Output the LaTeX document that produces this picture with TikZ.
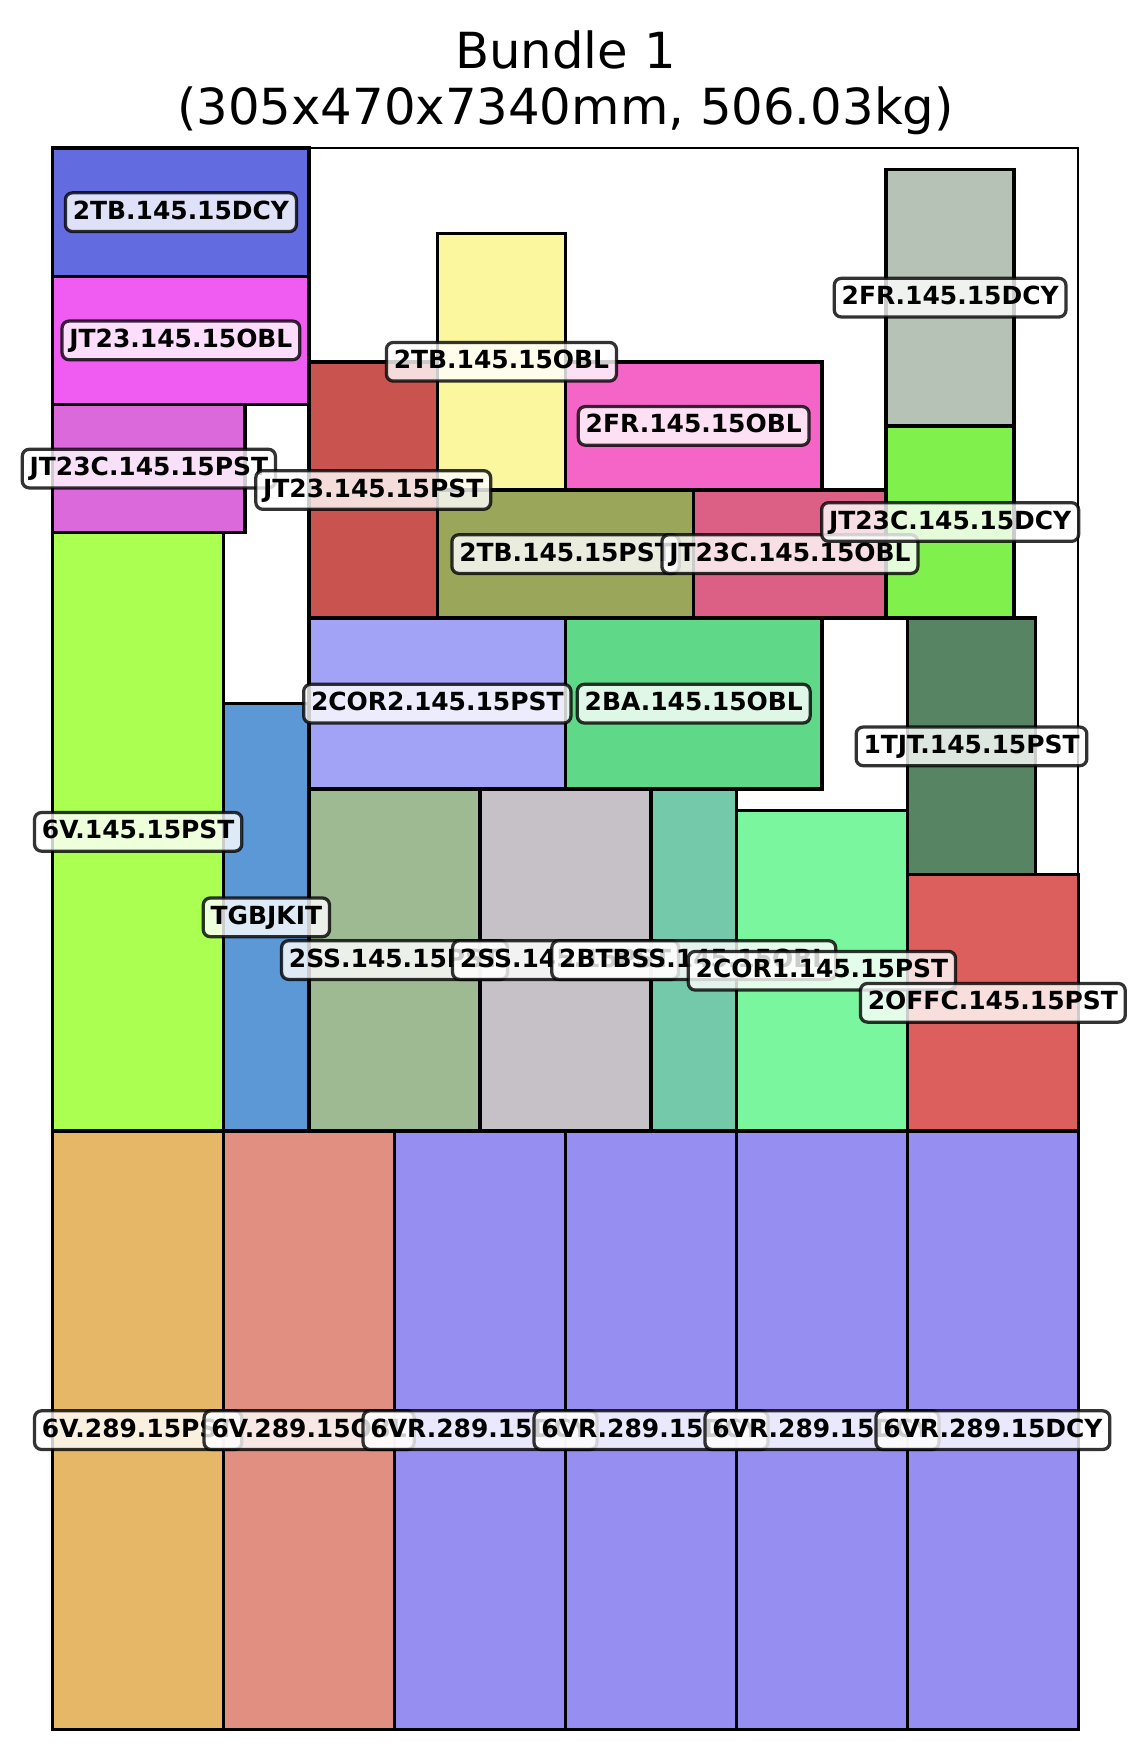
\documentclass[tikz,border=0pt]{standalone}
\usepackage{fontspec}
\setmainfont{DejaVu Sans}
\usepackage{xcolor}
\usepackage{tikz}

\definecolor{cOrange}{RGB}{229,183,103}
\definecolor{cSalmon}{RGB}{224,143,128}
\definecolor{cViolet}{RGB}{151,142,242}
\definecolor{cLime}{RGB}{170,255,80}
\definecolor{cSteel}{RGB}{92,151,214}
\definecolor{cSage}{RGB}{158,186,146}
\definecolor{cMist}{RGB}{198,193,198}
\definecolor{cTeal}{RGB}{116,201,171}
\definecolor{cMint}{RGB}{122,247,158}
\definecolor{cRed}{RGB}{221,95,93}
\definecolor{cPine}{RGB}{87,133,99}
\definecolor{cPeri}{RGB}{162,162,246}
\definecolor{cJade}{RGB}{95,216,135}
\definecolor{cOrchid}{RGB}{220,105,220}
\definecolor{cBrick}{RGB}{201,83,79}
\definecolor{cOlive}{RGB}{154,167,90}
\definecolor{cLemon}{RGB}{251,247,159}
\definecolor{cPink}{RGB}{245,101,200}
\definecolor{cRose}{RGB}{220,96,133}
\definecolor{cGrass}{RGB}{128,240,76}
\definecolor{cAsh}{RGB}{183,194,183}
\definecolor{cBlue}{RGB}{99,107,225}
\definecolor{cMagenta}{RGB}{240,92,242}

\begin{document}
\begin{tikzpicture}[
  x=1.7094cm, y=1.7094cm,
  crate/.style={draw=black, line width=0.07cm},
  frame/.style={draw=black, line width=0.04cm},
  tag/.style={draw=black, draw opacity=0.8, fill=white, fill opacity=0.8, text opacity=1,
    line width=0.065cm, rounded corners=0.14cm, inner xsep=4.2pt, inner ysep=4pt,
    text height=11pt, text depth=3pt, font=\fontsize{14.2pt}{16pt}\selectfont\bfseries},
  heading/.style={anchor=base, font=\fontsize{28.3pt}{32pt}\selectfont}
]
\useasboundingbox (-0.6166,-0.3475) rectangle (12.814,20.233);

% title
\node[heading] (title) at (6,19.434) {Bundle 1};
\node[heading] (subtitle) at (6,18.781) {(305x470x7340mm, 506.03kg)};

% bottom row
\draw[crate, fill=cOrange] (0,0) rectangle (2,7);
\draw[crate, fill=cSalmon] (2,0) rectangle (4,7);
\draw[crate, fill=cViolet] (4,0) rectangle (6,7);
\draw[crate, fill=cViolet] (6,0) rectangle (8,7);
\draw[crate, fill=cViolet] (8,0) rectangle (10,7);
\draw[crate, fill=cViolet] (10,0) rectangle (12,7);

% middle
\draw[crate, fill=cLime] (0,7) rectangle (2,14);
\draw[crate, fill=cSteel] (2,7) rectangle (3,12);
\draw[crate, fill=cSage] (3,7) rectangle (5,11);
\draw[crate, fill=cMist] (5,7) rectangle (7,11);
\draw[crate, fill=cTeal] (7,7) rectangle (8,11);
\draw[crate, fill=cMint] (8,7) rectangle (10,10.75);
\draw[crate, fill=cRed] (10,7) rectangle (12,10);
\draw[crate, fill=cPine] (10,10) rectangle (11.5,13);
\draw[crate, fill=cPeri] (3,11) rectangle (6,13);
\draw[crate, fill=cJade] (6,11) rectangle (9,13);

% top
\draw[crate, fill=cOrchid] (0,14) rectangle (2.25,15.5);
\draw[crate, fill=cBrick] (3,13) rectangle (4.5,16);
\draw[crate, fill=cOlive] (4.5,13) rectangle (7.5,14.5);
\draw[crate, fill=cLemon] (4.5,14.5) rectangle (6,17.5);
\draw[crate, fill=cPink] (6,14.5) rectangle (9,16);
\draw[crate, fill=cRose] (7.5,13) rectangle (9.75,14.5);
\draw[crate, fill=cGrass] (9.75,13) rectangle (11.25,15.25);
\draw[crate, fill=cAsh] (9.75,15.25) rectangle (11.25,18.25);
\draw[crate, fill=cBlue] (0,17) rectangle (3,18.5);
\draw[crate, fill=cMagenta] (0,15.5) rectangle (3,17);

\draw[frame] (0,0) rectangle (12,18.5);

% labels
\node[tag] (v1) at (1,3.5) {6V.289.15PST};
\node[tag] (v2) at (3,3.5) {6V.289.15OBL};
\node[tag] (vr1) at (5,3.5) {6VR.289.15DCY};
\node[tag] (vr2) at (7,3.5) {6VR.289.15DCY};
\node[tag] (vr3) at (9,3.5) {6VR.289.15DCY};
\node[tag] (vr4) at (11,3.5) {6VR.289.15DCY};
\node[tag] (v145) at (1,10.5) {6V.145.15PST};
\node[tag] (kit) at (2.5,9.5) {TGBJKIT};
\node[tag] (ss1) at (4,9) {2SS.145.15PST};
\node[tag] (ss2) at (6,9) {2SS.145.15PST};
\node[tag] (btbss) at (7.5,9) {2BTBSS.145.15OBL};
\node[tag] (cor1) at (9,8.875) {2COR1.145.15PST};
\node[tag] (offc) at (11,8.5) {2OFFC.145.15PST};
\node[tag] (tjt) at (10.75,11.5) {1TJT.145.15PST};
\node[tag] (cor2) at (4.5,12) {2COR2.145.15PST};
\node[tag] (ba) at (7.5,12) {2BA.145.15OBL};
\node[tag] (jtcpst) at (1.125,14.75) {JT23C.145.15PST};
\node[tag] (jtpst) at (3.75,14.5) {JT23.145.15PST};
\node[tag] (tbpst) at (6,13.75) {2TB.145.15PST};
\node[tag] (tbobl) at (5.25,16) {2TB.145.15OBL};
\node[tag] (frobl) at (7.5,15.25) {2FR.145.15OBL};
\node[tag] (jtcobl) at (8.625,13.75) {JT23C.145.15OBL};
\node[tag] (jtcdcy) at (10.5,14.125) {JT23C.145.15DCY};
\node[tag] (frdcy) at (10.5,16.75) {2FR.145.15DCY};
\node[tag] (tbdcy) at (1.5,17.75) {2TB.145.15DCY};
\node[tag] (jtobl) at (1.5,16.25) {JT23.145.15OBL};
\end{tikzpicture}
\end{document}
